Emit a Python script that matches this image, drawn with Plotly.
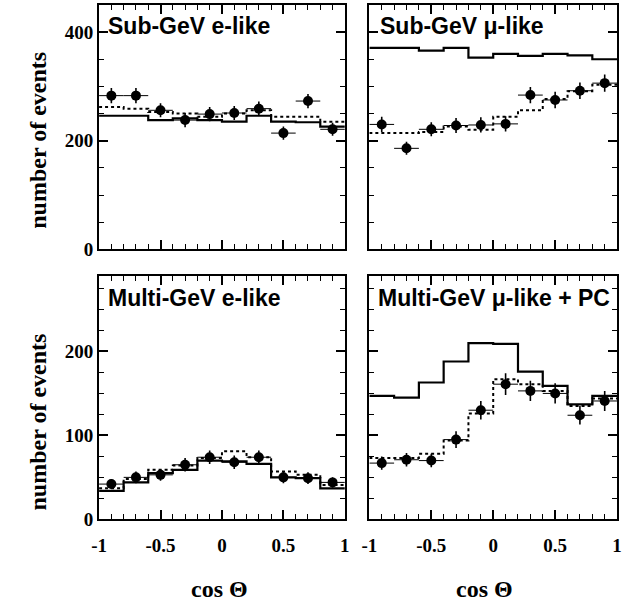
import plotly.graph_objects as go

# ---------------- data ----------------
bin_edges = [-1.0, -0.8, -0.6, -0.4, -0.2, 0.0, 0.2, 0.4, 0.6, 0.8, 1.0]
bin_centers = [-0.9, -0.7, -0.5, -0.3, -0.1, 0.1, 0.3, 0.5, 0.7, 0.9]

panel_titles = ["Sub-GeV e-like", "Sub-GeV μ-like", "Multi-GeV e-like", "Multi-GeV μ-like + PC"]

# Sub-GeV e-like
sge_data = [283, 283, 256, 238, 249, 251, 259, 214, 273, 221]
sge_err = [14, 14, 13, 13, 13, 13, 13, 12, 13, 12]
sge_noosc = [246, 246, 238, 241, 238, 235, 246, 235, 234, 226]
sge_osc = [262, 259, 253, 250, 244, 250, 256, 244, 244, 235]

# Sub-GeV mu-like
sgm_data = [230, 186, 221, 228, 229, 231, 284, 275, 292, 306]
sgm_err = [14, 12, 13, 14, 14, 14, 15, 15, 15, 16]
sgm_noosc = [371, 371, 366, 371, 353, 360, 356, 360, 357, 350]
sgm_osc = [214, 214, 216, 226, 220, 244, 256, 277, 291, 303]

# Multi-GeV e-like
mge_data = [42, 50, 53, 65, 74, 68, 74, 50, 49, 44]
mge_err = [6, 7, 7, 8, 8, 8, 8, 7, 7, 6]
mge_noosc = [34, 44, 55, 59, 70, 69, 66, 50, 49, 37]
mge_osc = [37, 48, 59, 64, 73, 81, 74, 57, 53, 41]

# Multi-GeV mu-like + PC
mgm_data = [67, 71, 70, 95, 130, 161, 153, 150, 124, 141]
mgm_err = [8, 8, 8, 10, 11, 13, 12, 12, 11, 12]
mgm_noosc = [147, 145, 163, 188, 210, 209, 176, 159, 137, 147]
mgm_osc = [73, 73, 78, 94, 126, 167, 161, 153, 135, 144]

panels = [
    (sge_data, sge_err, sge_noosc, sge_osc),
    (sgm_data, sgm_err, sgm_noosc, sgm_osc),
    (mge_data, mge_err, mge_noosc, mge_osc),
    (mgm_data, mgm_err, mgm_noosc, mgm_osc),
]

x_tickvals = [-1, -0.5, 0, 0.5, 1]
x_ticktext = ["-1", "-0.5", "0", "0.5", "1"]
top_yticks = [0, 200, 400]
bot_yticks = [0, 100, 200]

# ---------------- figure ----------------
W, H = 626, 603
fig = go.Figure()

for i, (dat, err, noosc, osc) in enumerate(panels):
    ax = "" if i == 0 else str(i + 1)
    xr, yr = "x" + ax, "y" + ax
    step_x = bin_edges
    fig.add_trace(go.Scatter(
        x=step_x, y=list(noosc) + [noosc[-1]], mode="lines", line_shape="hv",
        line=dict(color="black", width=2.2), xaxis=xr, yaxis=yr, showlegend=False))
    fig.add_trace(go.Scatter(
        x=step_x, y=list(osc) + [osc[-1]], mode="lines", line_shape="hv",
        line=dict(color="black", width=2, dash="dot"), xaxis=xr, yaxis=yr, showlegend=False))
    fig.add_trace(go.Scatter(
        x=bin_centers, y=dat, mode="markers",
        marker=dict(color="black", size=10),
        error_y=dict(type="data", array=err, color="black", thickness=1.6, width=0),
        error_x=dict(type="constant", value=0.1, color="black", thickness=1, width=0),
        xaxis=xr, yaxis=yr, showlegend=False))

def px_x(p):
    return p / W

def px_y(p):
    return 1 - p / H

xdoms = [(px_x(93), px_x(344)), (px_x(369), px_x(622))]
ydoms = [(px_y(254), px_y(5)), (px_y(529), px_y(281))]

tickfont = dict(family="Liberation Serif", size=19, color="black", weight="bold")

layout = dict(
    width=W, height=H,
    margin=dict(l=0, r=0, t=0, b=0),
    paper_bgcolor="white", plot_bgcolor="white",
    showlegend=False,
)

for i in range(4):
    ax = "" if i == 0 else str(i + 1)
    row, col = divmod(i, 2)
    top = row == 0
    layout["xaxis" + ax] = dict(
        domain=xdoms[col], range=[-1, 1], anchor="y" + ax,
        showline=True, linecolor="black", linewidth=2, mirror="allticks",
        ticks="inside", ticklen=9, tickwidth=1.5, tickcolor="black",
        tickvals=x_tickvals, ticktext=x_ticktext,
        minor=dict(ticks="inside", dtick=0.1, ticklen=5, tickwidth=1.3, tickcolor="black"),
        showticklabels=not top, tickfont=tickfont, ticklabelstandoff=8,
        showgrid=False, zeroline=False, fixedrange=True,
    )
    ymax = 450 if top else 290
    yt = top_yticks if top else bot_yticks
    mdt = 50 if top else 25
    layout["yaxis" + ax] = dict(
        domain=ydoms[row], range=[0, ymax], anchor="x" + ax,
        showline=True, linecolor="black", linewidth=2, mirror="allticks",
        ticks="inside", ticklen=9, tickwidth=1.5, tickcolor="black",
        tickvals=yt, ticktext=[str(v) for v in yt],
        minor=dict(ticks="inside", dtick=mdt, ticklen=5, tickwidth=1.3, tickcolor="black"),
        showticklabels=(col == 0), tickfont=tickfont,
        showgrid=False, zeroline=False, fixedrange=True,
    )

fig.update_layout(**layout)

ann = []
title_pos = [(100, 26), (378, 26), (100, 304), (376, 304)]
for t, (x, y) in zip(panel_titles, title_pos):
    ann.append(dict(text=t, x=px_x(x), y=px_y(y), xref="paper", yref="paper",
                    xanchor="left", yanchor="middle", showarrow=False,
                    font=dict(family="Liberation Sans", size=23, color="black", weight="bold")))

for yc in [143, 430]:
    ann.append(dict(text="number of events", x=px_x(31), y=px_y(yc), xref="paper", yref="paper",
                    xanchor="center", yanchor="middle", showarrow=False, textangle=-90,
                    font=dict(family="Liberation Serif", size=24, color="black", weight="bold")))

for xc in [216, 487]:
    ann.append(dict(text="cos Θ", x=px_x(xc), y=px_y(600), xref="paper", yref="paper",
                    xanchor="center", yanchor="middle", showarrow=False,
                    font=dict(family="Liberation Serif", size=24, color="black", weight="bold")))

fig.update_layout(annotations=ann)
fig.write_html("out.html")
